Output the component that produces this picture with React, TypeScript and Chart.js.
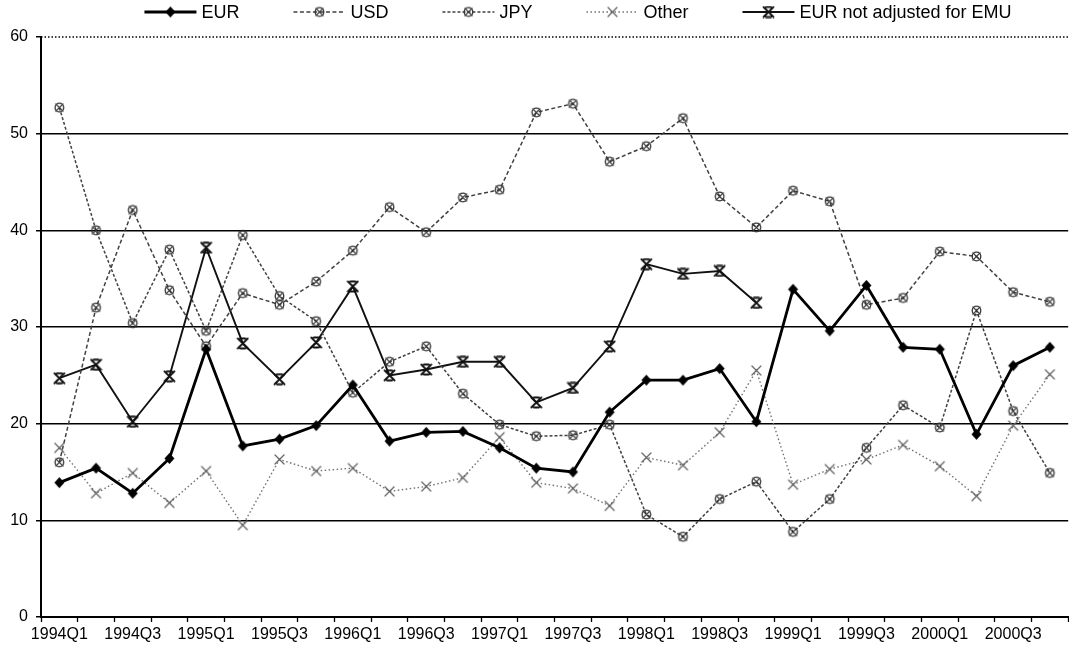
import React, { useEffect, useRef } from "react";
import { Chart, registerables } from "chart.js";

Chart.register(...registerables);

const quarters = [
  "1994Q1", "1994Q2", "1994Q3", "1994Q4",
  "1995Q1", "1995Q2", "1995Q3", "1995Q4",
  "1996Q1", "1996Q2", "1996Q3", "1996Q4",
  "1997Q1", "1997Q2", "1997Q3", "1997Q4",
  "1998Q1", "1998Q2", "1998Q3", "1998Q4",
  "1999Q1", "1999Q2", "1999Q3", "1999Q4",
  "2000Q1", "2000Q2", "2000Q3", "2000Q4",
];

const eur = [13.9, 15.4, 12.8, 16.4, 27.7, 17.7, 18.4, 19.8, 24.0, 18.2, 19.1, 19.2, 17.5, 15.4, 15.0, 21.2, 24.5, 24.5, 25.7, 20.2, 33.9, 29.6, 34.3, 27.9, 27.7, 18.9, 26.0, 27.9];
const usd = [16.0, 32.0, 42.1, 33.8, 28.0, 33.5, 32.3, 34.7, 37.9, 42.4, 39.8, 43.4, 44.2, 52.2, 53.1, 47.1, 48.7, 51.6, 43.5, 40.3, 44.1, 43.0, 32.3, 33.0, 37.8, 37.3, 33.6, 32.6];
const jpy = [52.7, 40.0, 30.4, 38.0, 29.6, 39.5, 33.2, 30.6, 23.2, 26.4, 28.0, 23.1, 19.9, 18.7, 18.8, 19.9, 10.6, 8.3, 12.2, 14.0, 8.8, 12.2, 17.5, 21.9, 19.6, 31.7, 21.3, 14.9];
const other = [17.5, 12.8, 14.9, 11.8, 15.1, 9.5, 16.3, 15.1, 15.4, 13.0, 13.5, 14.4, 18.6, 13.9, 13.3, 11.5, 16.5, 15.7, 19.1, 25.5, 13.7, 15.3, 16.3, 17.8, 15.6, 12.5, 19.8, 25.1];
const eurNotAdjusted = [24.7, 26.1, 20.2, 24.9, 38.2, 28.3, 24.6, 28.4, 34.2, 25.0, 25.6, 26.4, 26.4, 22.2, 23.7, 28.0, 36.5, 35.5, 35.8, 32.5, null, null, null, null, null, null, null, null];

const yTicks = [0, 10, 20, 30, 40, 50, 60];

const FONT = '"Liberation Sans", Arial, Helvetica, sans-serif';

function makeMarker(kind: string, color: string): HTMLCanvasElement {
  const size = 13;
  const c = document.createElement("canvas");
  c.width = size;
  c.height = size;
  const g = c.getContext("2d") as CanvasRenderingContext2D;
  const m = size / 2;
  g.strokeStyle = color;
  g.fillStyle = color;
  g.lineCap = "round";
  if (kind === "diamond") {
    g.beginPath();
    g.moveTo(m, m - 5.5);
    g.lineTo(m + 5, m);
    g.lineTo(m, m + 5.5);
    g.lineTo(m - 5, m);
    g.closePath();
    g.fill();
  } else if (kind === "circx") {
    g.lineWidth = 1.3;
    g.beginPath();
    g.arc(m, m, 4.3, 0, Math.PI * 2);
    g.stroke();
    g.beginPath();
    g.moveTo(m - 3.6, m - 3.6);
    g.lineTo(m + 3.6, m + 3.6);
    g.moveTo(m + 3.6, m - 3.6);
    g.lineTo(m - 3.6, m + 3.6);
    g.stroke();
  } else if (kind === "x") {
    g.lineWidth = 1.2;
    g.beginPath();
    g.moveTo(m - 4.5, m - 4.5);
    g.lineTo(m + 4.5, m + 4.5);
    g.moveTo(m + 4.5, m - 4.5);
    g.lineTo(m - 4.5, m + 4.5);
    g.stroke();
  } else if (kind === "star") {
    g.lineWidth = 1.8;
    g.beginPath();
    g.moveTo(m - 5, m - 5);
    g.lineTo(m + 5, m + 5);
    g.moveTo(m + 5, m - 5);
    g.lineTo(m - 5, m + 5);
    g.moveTo(m - 2.5, m - 5);
    g.lineTo(m + 2.5, m - 5);
    g.moveTo(m - 2.5, m + 5);
    g.lineTo(m + 2.5, m + 5);
    g.stroke();
  }
  return c;
}

const LEGEND_CX = 578;
const LEGEND_Y = 12;
const SAMPLE_W = 52;
const TEXT_GAP = 5;
const ITEM_GAP = 54;

const legendPlugin = {
  id: "excelLegend",
  beforeDatasetsDraw(chart: any) {
    const { ctx, chartArea, scales } = chart;
    const y = scales.y.getPixelForValue(60);
    ctx.save();
    ctx.strokeStyle = "#000";
    ctx.lineWidth = 1.5;
    ctx.setLineDash([1.5, 2]);
    ctx.beginPath();
    ctx.moveTo(chartArea.left, y);
    ctx.lineTo(chartArea.right, y);
    ctx.stroke();
    ctx.restore();
  },
  afterDraw(chart: any) {
    const ctx = chart.ctx as CanvasRenderingContext2D;
    ctx.save();
    ctx.font = `18px ${FONT}`;
    const ds = chart.data.datasets;
    const widths = ds.map((d: any) => SAMPLE_W + TEXT_GAP + ctx.measureText(d.label).width);
    const total = widths.reduce((a: number, b: number) => a + b, 0) + ITEM_GAP * (ds.length - 1);
    let x = LEGEND_CX - total / 2;
    ds.forEach((d: any, i: number) => {
      ctx.save();
      ctx.strokeStyle = d.borderColor;
      ctx.lineWidth = d.borderWidth;
      ctx.setLineDash(d.borderDash || []);
      ctx.beginPath();
      ctx.moveTo(x, LEGEND_Y);
      ctx.lineTo(x + SAMPLE_W, LEGEND_Y);
      ctx.stroke();
      ctx.restore();
      const img = d.pointStyle as HTMLCanvasElement;
      ctx.drawImage(img, x + SAMPLE_W / 2 - img.width / 2, LEGEND_Y - img.height / 2);
      ctx.fillStyle = "#000";
      ctx.textBaseline = "middle";
      ctx.textAlign = "left";
      ctx.fillText(d.label, x + SAMPLE_W + TEXT_GAP, LEGEND_Y + 1);
      x += widths[i] + ITEM_GAP;
    });
    ctx.restore();
  },
};

export default function App() {
  const ref = useRef<HTMLCanvasElement | null>(null);

  useEffect(() => {
    if (!ref.current) return;
    const chart = new Chart(ref.current, {
      type: "line",
      data: {
        labels: quarters,
        datasets: [
          {
            label: "EUR",
            data: eur,
            borderColor: "#000",
            borderWidth: 2.8,
            pointStyle: makeMarker("diamond", "#000") as any,
            pointRadius: 5,
            tension: 0,
          },
          {
            label: "USD",
            data: usd,
            borderColor: "#404040",
            borderWidth: 1.5,
            borderDash: [4, 2.5],
            pointStyle: makeMarker("circx", "#333") as any,
            pointRadius: 5,
            tension: 0,
          },
          {
            label: "JPY",
            data: jpy,
            borderColor: "#404040",
            borderWidth: 1.5,
            borderDash: [3, 2],
            pointStyle: makeMarker("circx", "#333") as any,
            pointRadius: 5,
            tension: 0,
          },
          {
            label: "Other",
            data: other,
            borderColor: "#707070",
            borderWidth: 1.4,
            borderDash: [1.5, 2.5],
            pointStyle: makeMarker("x", "#606060") as any,
            pointRadius: 5,
            tension: 0,
          },
          {
            label: "EUR not adjusted for EMU",
            data: eurNotAdjusted,
            borderColor: "#111",
            borderWidth: 1.9,
            pointStyle: makeMarker("star", "#111") as any,
            pointRadius: 5,
            tension: 0,
            spanGaps: false,
          },
        ],
      },
      options: {
        animation: false,
        responsive: false,
        devicePixelRatio: 1,
        layout: { padding: { top: 37, right: 2, left: 0, bottom: 0 } },
        plugins: {
          legend: { display: false },
          tooltip: { enabled: false },
        },
        scales: {
          x: {
            type: "category",
            offset: true,
            grid: {
              display: true,
              offset: true,
              drawOnChartArea: false,
              drawTicks: true,
              tickLength: 5,
              tickColor: "#000",
              tickWidth: 1.3,
              color: "#000",
            },
            border: { display: true, color: "#000", width: 2 },
            ticks: {
              autoSkip: false,
              maxRotation: 0,
              minRotation: 0,
              padding: 3,
              color: "#000",
              font: { family: FONT, size: 16 },
              callback: function (this: any, value: any, index: number) {
                return index % 2 === 0 ? quarters[index] : "";
              },
            },
            afterFit: (s: any) => {
              s.height = 30;
            },
          },
          y: {
            type: "linear",
            min: yTicks[0],
            max: yTicks[yTicks.length - 1],
            afterBuildTicks: (s: any) => {
              s.ticks = yTicks.map((v) => ({ value: v }));
            },
            ticks: {
              padding: 8,
              color: "#000",
              font: { family: FONT, size: 16 },
            },
            grid: {
              color: (c: any) => (c.tick && c.tick.value === 60 ? "rgba(0,0,0,0)" : "#000"),
              lineWidth: 1.5,
              drawTicks: true,
              tickLength: 5,
              tickColor: "#000",
              tickWidth: 1.5,
            },
            border: { display: true, color: "#000", width: 2 },
            afterFit: (s: any) => {
              s.width = 41;
            },
          },
        },
      },
      plugins: [legendPlugin],
    });
    return () => chart.destroy();
  }, []);

  return (
    <div
      style={{
        position: "fixed",
        left: 0,
        top: 0,
        width: 1069,
        height: 647,
        overflow: "hidden",
        background: "#fff",
      }}
    >
      <canvas ref={ref} width={1076} height={647} style={{ display: "block" }} />
    </div>
  );
}
